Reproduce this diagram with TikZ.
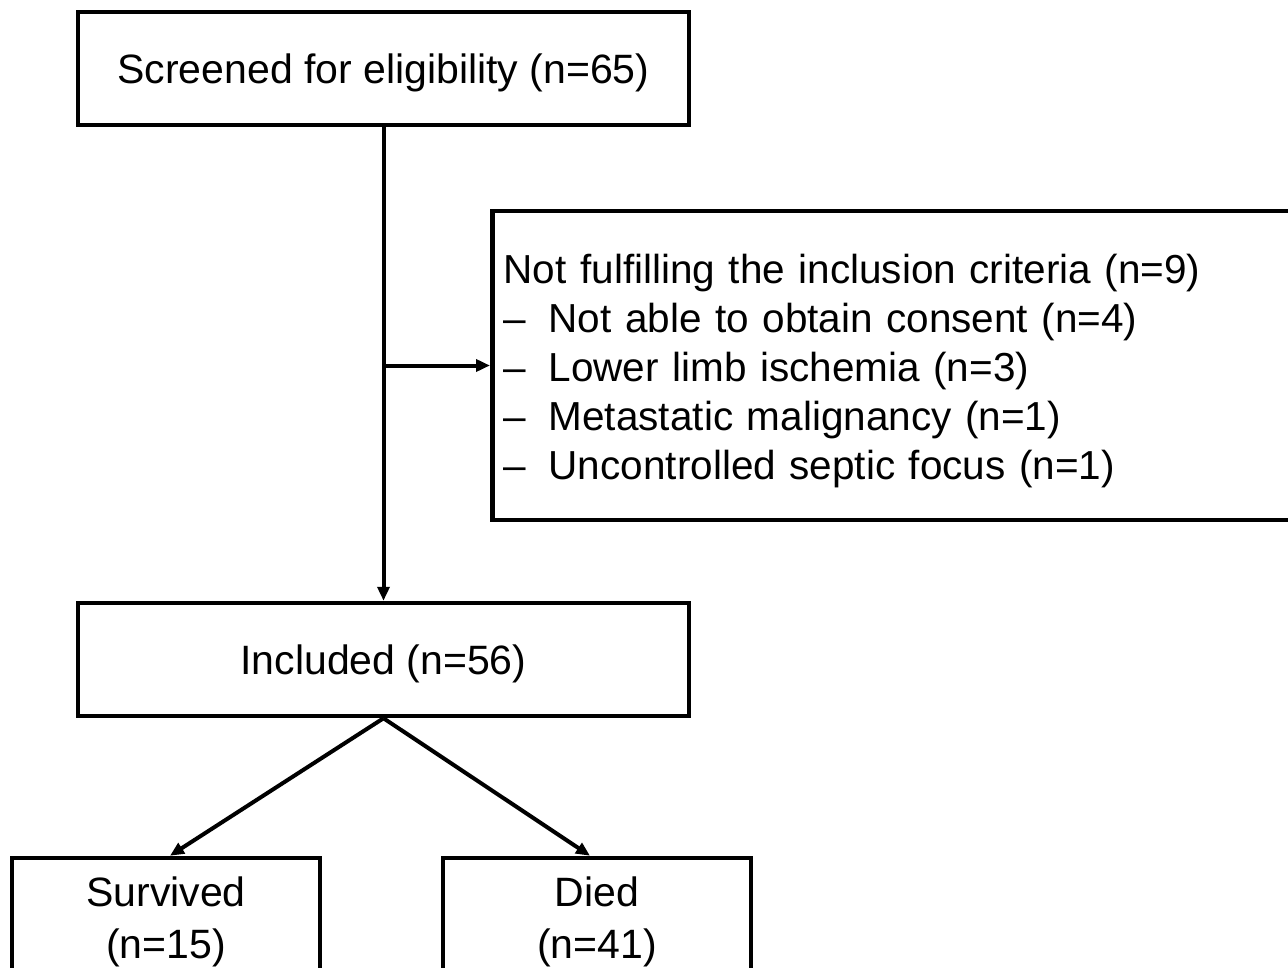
\documentclass[tikz,border=0pt]{standalone}
\usepackage{fontspec}
\setmainfont{Liberation Sans}
\usetikzlibrary{arrows.meta}

\begin{document}
\begin{tikzpicture}[x=1pt,y=-1pt,line width=4.5pt,
    box/.style={draw,rectangle,inner sep=0pt,align=center,text depth=0pt,
        font=\fontsize{41}{52}\selectfont},
    arr/.style={-{Triangle[length=14pt,width=12pt]},line width=4pt}]
    \useasboundingbox (0,0) rectangle (1288,968);
    \clip (0,0) rectangle (1288,968);
    \fill[white] (0,0) rectangle (1288,968);
    % boxes
    \node[box,minimum width=611pt,minimum height=113pt] (screened) at (383.5,68.5)
        {Screened for eligibility (n=65)};
    \node[box,anchor=west,minimum width=840pt,minimum height=309pt,
        text depth={},text width=817pt,inner xsep=11.5pt,align=left,
        font=\fontsize{40.5}{49}\selectfont] (criteria) at (490,365.5)
        {\rule{0pt}{40pt}Not fulfilling the inclusion criteria (n=9)\\
         \makebox[45pt][l]{--}Not able to obtain consent (n=4)\\
         \makebox[45pt][l]{--}Lower limb ischemia (n=3)\\
         \makebox[45pt][l]{--}Metastatic malignancy (n=1)\\
         \makebox[45pt][l]{--}Uncontrolled septic focus (n=1)};
    \node[box,minimum width=611pt,minimum height=113pt] (included) at (383.5,659.5)
        {Included (n=56)};
    \node[box,minimum width=308pt,minimum height=120pt] (survived) at (166,918)
        {Survived\\(n=15)};
    \node[box,minimum width=308pt,minimum height=120pt] (died) at (597,918)
        {Died\\(n=41)};
    % connectors
    \draw[arr] (screened.south) -- (included.north);
    \draw[arr] (screened.south |- criteria.west) -- (criteria.west);
    \draw[arr] (included.south) -- ([xshift=4pt]survived.north);
    \draw[arr] (included.south) -- ([xshift=-7pt]died.north);
\end{tikzpicture}
\end{document}
